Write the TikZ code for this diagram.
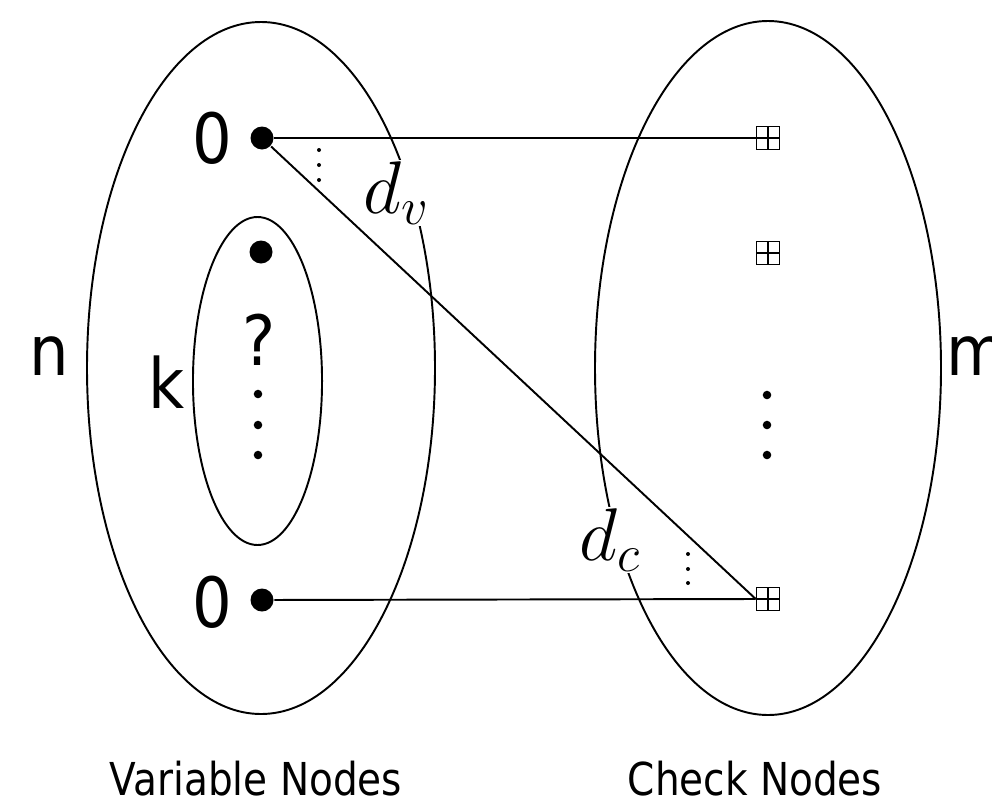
\RequirePackage{fix-cm}
\documentclass[tikz,border=0pt]{standalone}
\usepackage{fontspec}
\setmainfont{DejaVu Sans}[FakeStretch=0.9]
\newfontfamily\narrowfont{DejaVu Sans}[FakeStretch=0.86]
\begin{document}
\begin{tikzpicture}[x=0.75pt,y=-0.75pt,line width=1.45pt,
  vdot/.style={circle,fill,inner sep=0pt,minimum size=17.25pt},
  sdot/.style={circle,fill,inner sep=0pt,minimum size=6.4pt},
  tdot/.style={circle,fill,inner sep=0pt,minimum size=3pt},
  chk/.style={draw,line width=0.9pt,inner sep=0pt,minimum width=17.5pt,minimum height=17pt,
    path picture={\draw[line width=0.9pt] (path picture bounding box.north) -- (path picture bounding box.south)
      (path picture bounding box.west) -- (path picture bounding box.east);}},
  big/.style={font=\fontsize{52}{60}\selectfont,anchor=base,inner sep=0pt},
  captext/.style={font=\narrowfont\fontsize{34}{40}\selectfont,anchor=base,inner sep=0pt},
  deg/.style={font=\fontsize{56}{64}\selectfont,fill=white,inner sep=1pt}]
\useasboundingbox (0,0) rectangle (992,807);
% sets
\draw (261,368) ellipse [x radius=130.5pt, y radius=259.5pt];
\draw (768,368) ellipse [x radius=129.75pt, y radius=260.25pt];
\draw (257.5,381) ellipse [x radius=48.4pt, y radius=123pt];
% variable nodes
\node[vdot] (v1) at (262,138) {};
\node[vdot] (v2) at (261,252) {};
\node[vdot] (v3) at (262,600) {};
\node[sdot] (i1) at (258,394) {};
\node[sdot] (i2) at (258,425) {};
\node[sdot] (i3) at (258,455) {};
% check nodes
\node[chk] (c1) at (768,138) {};
\node[chk] (c2) at (768,253) {};
\node[chk] (c3) at (768,599) {};
\node[sdot] (j1) at (767,395) {};
\node[sdot] (j2) at (767,425) {};
\node[sdot] (j3) at (767,455) {};
% degree labels
\node[deg] (dv) at (396,193) {$d_v$};
\node[deg] (dc) at (610,540) {$d_c$};
\node[tdot] (t1) at (319,150) {};
\node[tdot] (t2) at (319,165) {};
\node[tdot] (t3) at (319,180) {};
\node[tdot] (u1) at (688,554) {};
\node[tdot] (u2) at (688,569) {};
\node[tdot] (u3) at (688,583) {};
% text
\node[big] (n) at (49,375) {n};
\node[big] (k) at (167,408) {k};
\node[big,anchor=base west] (m) at (946,375) {m};
\node[big] (q) at (259,365) {?};
\node[big] (z1) at (212,163) {0};
\node[big] (z3) at (212,627) {0};
\node[captext] (vn) at (256,795) {Variable Nodes};
\node[captext] (cn) at (755,795) {Check Nodes};
% edges
\draw (v1) -- (c1.west);
\draw (v1) -- (c3.west);
\draw (v3) -- (c3.west);
\end{tikzpicture}
\end{document}
